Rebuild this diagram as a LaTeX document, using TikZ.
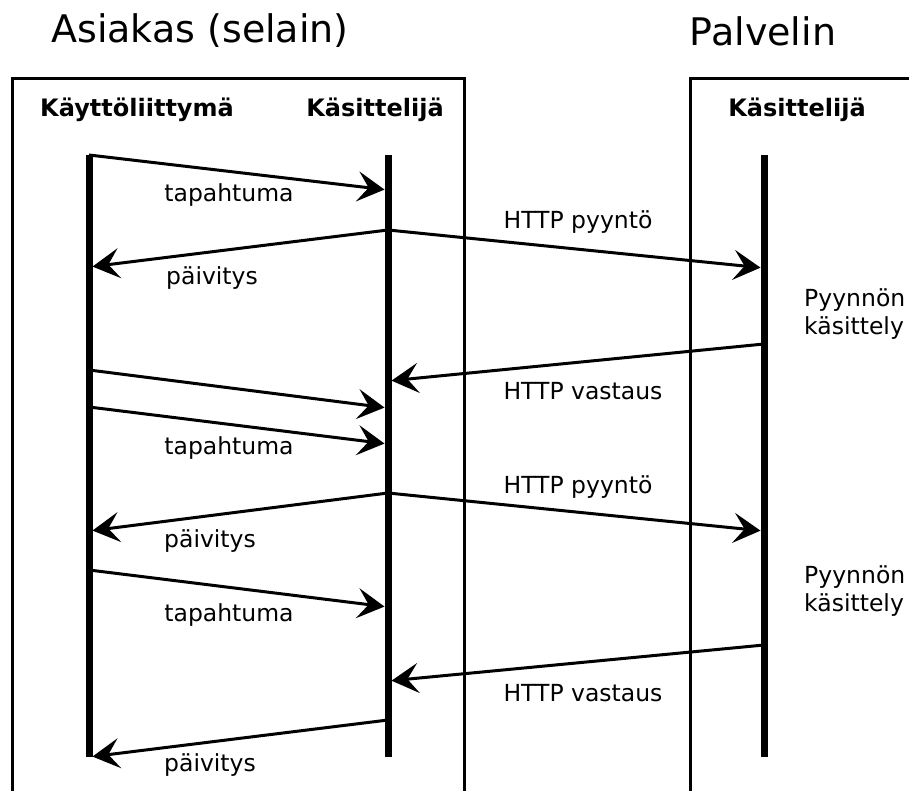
\documentclass[tikz,border=0pt]{standalone}
\usepackage{fontspec}
\setmainfont{DejaVu Sans}
\usetikzlibrary{arrows.meta}
\begin{document}
\begin{tikzpicture}[x=1pt,y=-1pt,
  title/.style={font=\fontsize{38}{44}\selectfont, inner sep=0pt},
  header/.style={font=\fontsize{24}{28}\bfseries\selectfont, inner sep=0pt},
  lbl/.style={font=\fontsize{23.5}{28}\selectfont, inner sep=0pt},
  frame/.style={line width=3pt},
  lifeline/.style={line width=7pt},
  msg/.style={line width=3pt, -{Stealth[length=27pt,width=30pt,inset=11pt]}, shorten >=3.5pt},
  plain/.style={line width=3pt}]
\useasboundingbox (0,0) rectangle (909,791);

% system frames, open at the bottom
\draw[frame] (12,800) -- (12,79) -- (464,79) -- (464,800);
\draw[frame] (690,800) -- (690,79) -- (920,79);

% titles and column headers
\node[title] (tclient) at (200,31) {Asiakas (selain)};
\node[title] (tserver) at (763,31) {Palvelin};
\node[header] (hui) at (137,110) {Käyttöliittymä};
\node[header] (hch) at (375,110) {Käsittelijä};
\node[header] (hsh) at (797,110) {Käsittelijä};

% lifelines
\coordinate (ui0) at (89,155);  \coordinate (ui1) at (89,757);
\coordinate (ch0) at (388,155); \coordinate (ch1) at (388,757);
\coordinate (sh0) at (764,155); \coordinate (sh1) at (764,757);
\draw[lifeline] (ui0) -- (ui1);
\draw[lifeline] (ch0) -- (ch1);
\draw[lifeline] (sh0) -- (sh1);

% message end points
\coordinate (a1) at (89,155);  \coordinate (b1) at (388,190);
\coordinate (a2) at (388,230); \coordinate (b2) at (89,267);
\coordinate (b3) at (764,268);
\coordinate (a4) at (764,344); \coordinate (b4) at (388,381);
\coordinate (a5) at (89,370);  \coordinate (b5) at (388,408);
\coordinate (a6) at (89,407);  \coordinate (b6) at (388,444);
\coordinate (a7) at (388,493); \coordinate (b7) at (89,531);
\coordinate (b8) at (764,531);
\coordinate (a9) at (89,570);  \coordinate (b9) at (388,607);
\coordinate (a10) at (764,645); \coordinate (b10) at (388,681);
\coordinate (a11) at (388,720); \coordinate (b11) at (89,757);

% messages
\draw[msg] (a1) -- (b1);
\draw[msg] (a2) -- (b2);
\draw[msg] (a2) -- (b3);
\draw[msg] (a4) -- (b4);
\draw[msg] (a5) -- (b5);
\draw[msg] (a6) -- (b6);
\draw[msg] (a7) -- (b7);
\draw[msg] (a7) -- (b8);
\draw[msg] (a9) -- (b9);
\draw[msg] (a10) -- (b10);
\draw[msg] (a11) -- (b11);

% message labels
\node[lbl] (l1) at (229,195) {tapahtuma};
\node[lbl] (l2) at (212,278) {päivitys};
\node[lbl] (l3) at (578,222) {HTTP pyyntö};
\node[lbl] (l4) at (583,391) {HTTP vastaus};
\node[lbl] (l6) at (229,448) {tapahtuma};
\node[lbl] (l7) at (210,541) {päivitys};
\node[lbl] (l8) at (578,487) {HTTP pyyntö};
\node[lbl] (l9) at (229,615) {tapahtuma};
\node[lbl] (l10) at (583,693) {HTTP vastaus};
\node[lbl] (l11) at (210,765) {päivitys};

% server processing notes
\node[lbl, anchor=west, align=left] (p1) at (804,314) {Pyynnön\\käsittely};
\node[lbl, anchor=west, align=left] (p2) at (804,591) {Pyynnön\\käsittely};
\end{tikzpicture}
\end{document}
